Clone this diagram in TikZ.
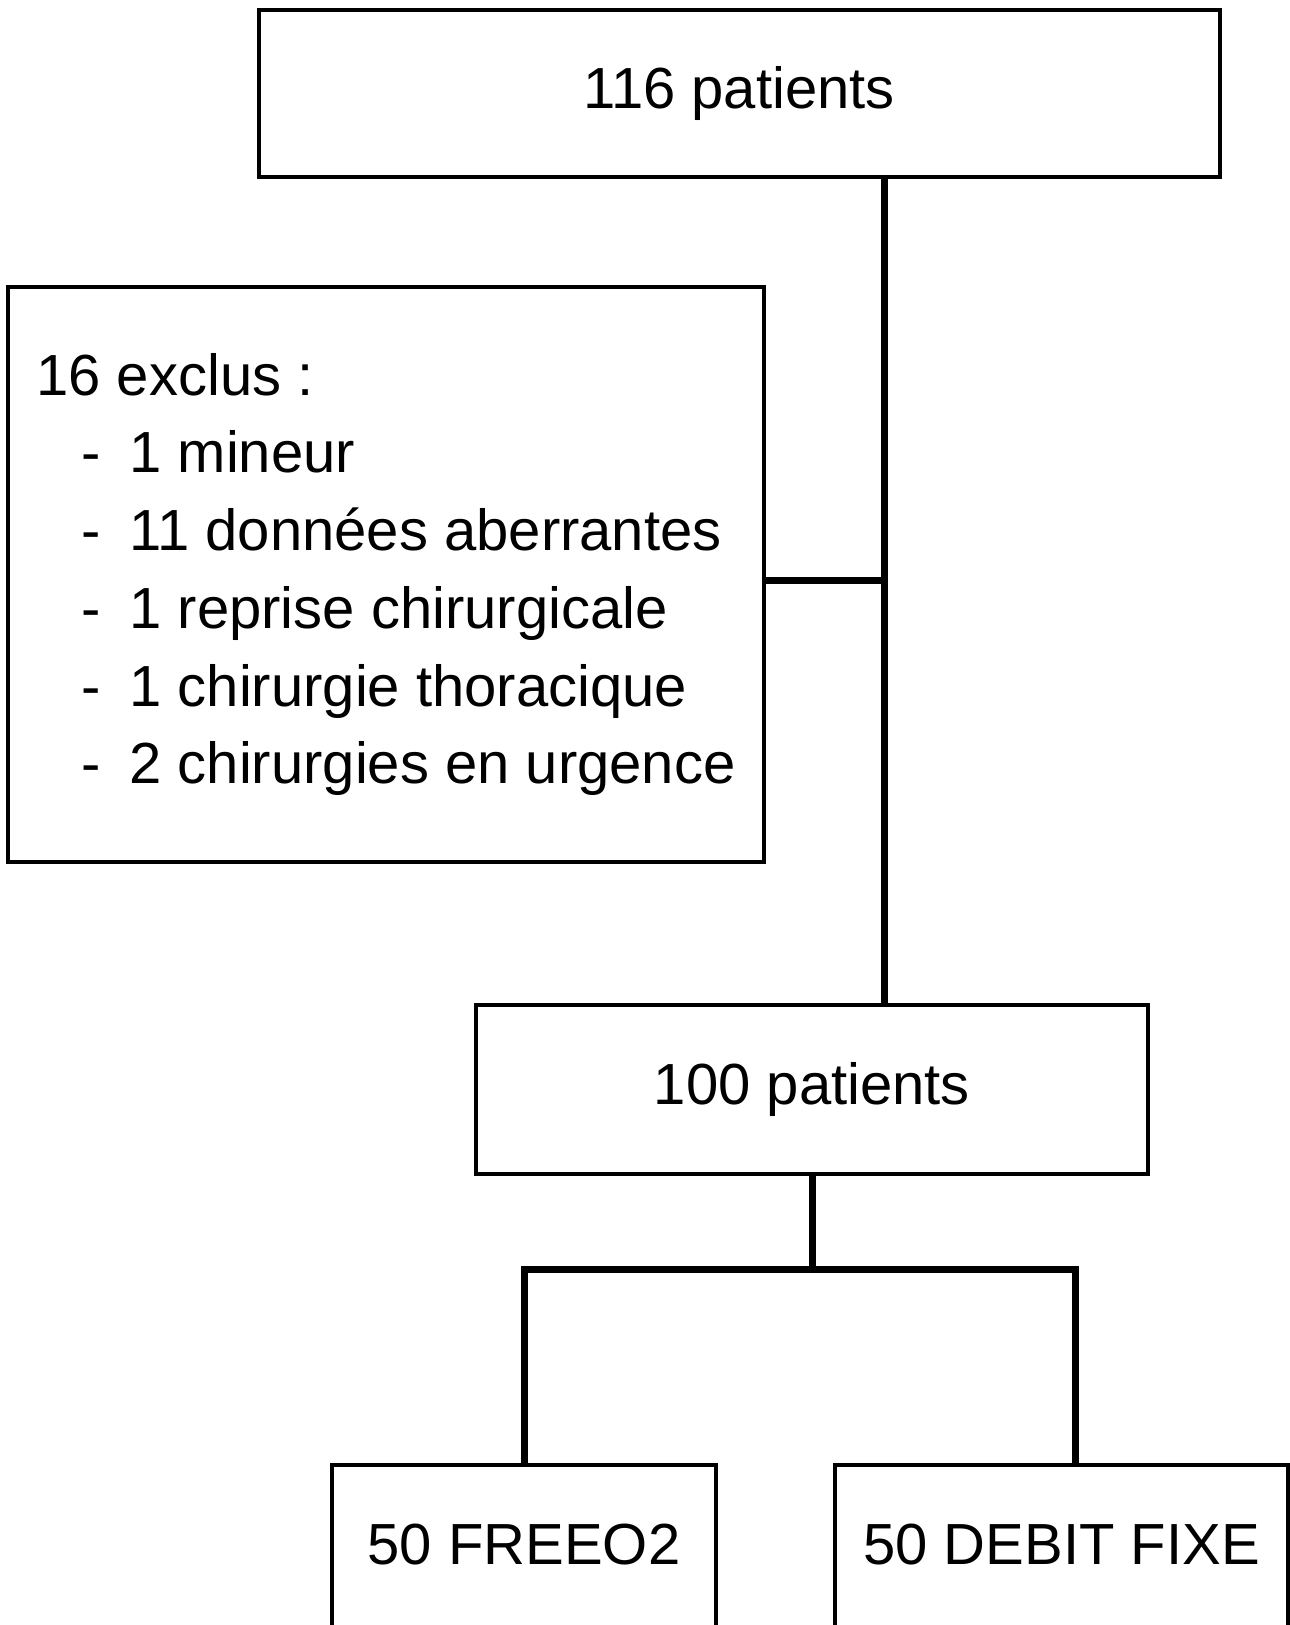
\documentclass[tikz,border=0pt]{standalone}
\usepackage{fontspec}
\setmainfont{Liberation Sans}
\newcommand{\exclitem}[1]{\hspace*{45pt}\makebox[48pt][l]{-}#1}

\begin{document}
\begin{tikzpicture}[x=1pt,y=-1pt,line join=miter,box node/.style={rectangle,draw,line width=4pt,inner sep=0pt,font=\fontsize{58}{77.7}\selectfont},link/.style={line width=7pt}]
  \useasboundingbox (0,0) rectangle (1290,1625);

  \node[box node,minimum width=961pt,minimum height=167pt] (top) at (739,93.5) {116 patients};
  \node[box node,minimum width=756pt,minimum height=575pt,align=left] (excl) at (386,574.5) {16 exclus :\\
    \exclitem{1 mineur}\\
    \exclitem{11 données aberrantes}\\
    \exclitem{1 reprise chirurgicale}\\
    \exclitem{1 chirurgie thoracique}\\
    \exclitem{2 chirurgies en urgence}};
  \node[box node,minimum width=672pt,minimum height=169pt] (hundred) at (812,1089.5) {100 patients};
  \node[box node,minimum width=384pt,anchor=north,text height=41pt,text depth=30pt,inner ysep=58pt] (freeo) at (524,1463) {50 FREEO2};
  \node[box node,minimum width=453pt,anchor=north,text height=41pt,text depth=30pt,inner ysep=58pt] (debit) at (1061.5,1463) {50 DEBIT FIXE};

  \coordinate (spine) at (884,0);
  \coordinate (fork) at (0,1269);
  \coordinate (drop) at (1075,1463);

\draw[link] (top.south -| spine) -- (hundred.north -| spine);
\draw[link] ([yshift=-6pt]excl.east) -- ([yshift=-6pt]excl.east -| spine);
\draw[link] (hundred.south) -- (hundred.south |- fork);
\draw[link] (freeo.north) -- (freeo.north |- fork) -- (drop |- fork) -- (drop);
\end{tikzpicture}
\end{document}
